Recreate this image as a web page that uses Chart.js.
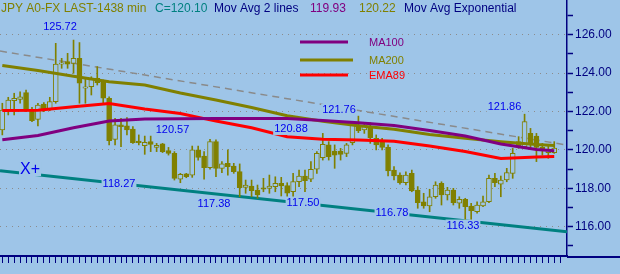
<!DOCTYPE html>
<html>
<head>
<meta charset="utf-8">
<script src="https://cdn.jsdelivr.net/npm/chart.js@4.4.0/dist/chart.umd.min.js"></script>
<style>
  html, body { margin: 0; padding: 0; background: #9ec5e8; }
  #grafico { display: block; }
</style>
</head>
<body>
<canvas id="grafico" width="620" height="274"></canvas>
<script>
// Candles (one per bar of 1438 min)
const opens  = [121.04,122.08,122.57,122.63,122.98,122.08,121.59,122.39,122.11,122.51,
                124.47,124.60,124.51,124.77,123.22,123.29,123.73,123.55,122.69,120.55,
                121.30,121.25,121.09,120.46,120.22,120.43,120.13,120.31,119.96,119.82,
                118.47,118.75,118.69,120.00,119.68,119.07,120.43,119.04,119.30,119.16,
                118.87,118.05,118.12,117.91,118.03,118.00,118.09,118.26,118.14,117.82,
                118.35,118.64,118.47,118.99,119.60,120.26,119.94,119.94,119.82,120.38,
                121.25,121.04,121.21,120.60,120.43,120.13,118.95,118.69,118.29,118.78,
                117.91,117.30,117.08,117.56,118.26,117.65,117.91,117.22,117.43,117.08,
                116.78,117.08,117.30,118.52,118.21,118.43,118.78,120.43,120.17,120.86,
                120.72,120.13,119.86,119.86];
const highs  = [122.43,122.74,122.95,123.03,123.12,122.22,122.43,122.46,122.74,125.55,
                124.77,125.03,125.72,125.59,123.73,123.81,124.34,123.64,122.77,121.64,
                121.64,121.68,121.21,120.78,120.72,120.72,120.34,120.34,120.13,119.91,
                118.78,118.78,120.20,120.20,119.91,120.55,120.52,119.39,120.00,119.30,
                119.27,118.43,118.43,118.17,118.52,118.69,118.60,118.57,118.29,118.78,
                118.95,118.95,119.39,119.91,120.86,120.43,120.26,120.08,120.34,121.47,
                121.76,121.42,121.42,120.78,120.60,120.26,119.13,118.81,118.86,118.95,
                118.09,117.74,117.95,118.34,118.34,118.05,118.00,117.56,117.48,117.22,
                117.30,117.60,118.69,118.78,118.64,119.04,120.08,120.69,121.86,121.12,
                120.86,120.34,120.26,120.43];
const lows   = [120.78,121.82,121.82,122.43,121.99,121.47,121.25,121.99,122.04,122.43,
                124.25,124.25,123.99,122.43,122.43,122.86,123.38,122.43,120.26,120.26,
                120.17,120.78,120.34,120.26,119.77,119.91,119.91,119.86,119.73,118.43,
                118.29,118.55,118.57,119.47,118.47,118.99,118.61,118.81,118.69,118.78,
                117.56,117.74,117.56,117.48,117.82,117.74,117.82,117.60,117.56,117.56,
                118.09,117.82,118.35,118.78,119.47,119.47,119.04,119.47,119.65,120.26,
                120.90,120.86,120.34,120.00,120.00,118.64,118.43,118.22,118.17,117.82,
                116.96,116.96,116.78,117.48,117.13,117.39,117.13,116.96,116.33,116.35,
                116.70,117.04,117.25,118.09,117.56,118.34,118.52,120.08,120.08,120.08,
                119.39,119.73,119.56,119.82];
const closes = [122.08,122.60,122.69,122.77,122.11,121.52,122.34,122.11,122.51,124.47,
                124.54,124.46,124.77,123.47,123.29,123.68,123.50,122.69,120.48,121.30,
                121.21,121.04,120.38,120.38,120.39,120.29,120.24,119.91,119.82,118.52,
                118.73,118.61,120.00,119.61,119.07,120.43,119.04,119.27,119.13,118.87,
                118.03,118.17,117.88,117.65,117.95,118.12,118.26,118.12,117.74,118.35,
                118.64,118.40,118.99,119.82,120.29,119.65,119.73,119.77,120.26,121.38,
                121.00,121.25,120.64,120.26,120.13,118.90,118.64,118.29,118.69,117.87,
                117.25,117.08,117.56,118.17,117.65,117.91,117.25,117.43,117.04,116.84,
                117.13,117.30,118.52,118.29,118.43,118.82,119.82,120.20,121.47,120.34,
                120.13,119.99,119.99,120.10];

// Moving averages, read every few bars
const maIdx = [0, 6, 12, 18, 24, 30, 36, 42, 48, 54, 60, 66, 72, 78, 84, 90, 93];
const ma100 = [120.53,120.75,121.15,121.50,121.61,121.62,121.63,121.64,121.63,121.53,121.42,121.27,121.01,120.72,120.31,120.02,119.95];
const ma200 = [124.39,124.13,123.84,123.55,123.38,122.96,122.60,122.21,121.78,121.49,121.26,121.07,120.80,120.61,120.43,120.28,120.23];
const ema89 = [122.05,122.06,122.25,122.42,122.13,121.90,121.50,121.15,120.69,120.55,120.52,120.45,120.20,119.92,119.55,119.63,119.65];

// Trend lines: value at the left edge and at the right edge of the plot
const trendUpper = [125.15, 120.25];
const trendLower = [118.92, 115.74];

// Price labels placed on the chart (bar index, price)
const notas = [
  { text: '125.72', x: 9.72,  y: 126.40 },
  { text: '120.57', x: 28.68, y: 121.04 },
  { text: '120.88', x: 48.64, y: 121.09 },
  { text: '121.76', x: 56.73, y: 122.08 },
  { text: '121.86', x: 84.62, y: 122.23 },
  { text: '118.27', x: 19.66, y: 118.24 },
  { text: '117.38', x: 35.67, y: 117.16 },
  { text: '117.50', x: 50.67, y: 117.26 },
  { text: '116.78', x: 65.66, y: 116.74 },
  { text: '116.33', x: 77.62, y: 116.06 }
];

const X_MIN = -0.39, X_MAX = 95.15;
const Y_MIN = 114.474, Y_MAX = 127.807;

const FUNDO = '#9ec5e8';
const OLIVA = '#808000';
const ROXO = '#800080';
const VERMELHO = '#ff0000';
const TEAL = '#008080';
const MARINHO = '#000080';
const AZUL = '#0000ee';
const FONTE = '"Liberation Sans", Arial, sans-serif';

const indices = opens.map((_, i) => i);
const altas = opens.map((o, i) => closes[i] >= o);

const pontos = (xs, ys) => xs.map((x, j) => ({ x: x, y: ys[j] }));

// texts on top of the plot: header, legend and price labels
const extras = {
  id: 'extras',
  afterDatasetsDraw(chart) {
    const { ctx, scales: { x, y }, chartArea } = chart;
    ctx.save();

    // bottom axis line keeps going under the price scale
    ctx.strokeStyle = MARINHO;
    ctx.lineWidth = 2;
    ctx.beginPath();
    ctx.moveTo(chartArea.right, chartArea.bottom + 1);
    ctx.lineTo(chart.width, chartArea.bottom + 1);
    ctx.stroke();

    ctx.textBaseline = 'middle';
    ctx.textAlign = 'left';
    ctx.font = '12px ' + FONTE;
    const cabecalho = [
      { t: 'JPY A0-FX LAST-1438 min', x: 1, c: OLIVA },
      { t: 'C=120.10', x: 155, c: TEAL },
      { t: 'Mov Avg 2 lines', x: 214, c: MARINHO },
      { t: '119.93', x: 310, c: ROXO },
      { t: '120.22', x: 359, c: OLIVA },
      { t: 'Mov Avg Exponential', x: 404, c: MARINHO }
    ];
    cabecalho.forEach(h => { ctx.fillStyle = h.c; ctx.fillText(h.t, h.x, 9); });

    // legend
    ctx.font = '11px ' + FONTE;
    const legenda = [
      { ds: 0, y: 42, x2: 348 },
      { ds: 1, y: 60, x2: 353 },
      { ds: 2, y: 75, x2: 348 }
    ];
    legenda.forEach(l => {
      const d = chart.data.datasets[l.ds];
      ctx.strokeStyle = d.borderColor;
      ctx.lineWidth = 3;
      ctx.beginPath();
      ctx.moveTo(300, l.y);
      ctx.lineTo(l.x2, l.y);
      ctx.stroke();
      ctx.fillStyle = d.borderColor;
      ctx.fillText(d.label, 369, l.y + 1);
    });

    // price labels with an opaque box
    ctx.textAlign = 'center';
    notas.forEach(n => {
      const px = x.getPixelForValue(n.x);
      const py = y.getPixelForValue(n.y);
      const w = ctx.measureText(n.text).width;
      ctx.fillStyle = FUNDO;
      ctx.fillRect(px - w / 2 - 1, py - 6, w + 2, 12);
      ctx.fillStyle = AZUL;
      ctx.fillText(n.text, px, py);
    });

    // X+ marker
    ctx.font = '16px ' + FONTE;
    const mx = x.getPixelForValue(4.67), my = y.getPixelForValue(119.0);
    const mw = ctx.measureText('X+').width;
    ctx.fillStyle = FUNDO;
    ctx.fillRect(mx - mw / 2 - 1, my - 8, mw + 2, 15);
    ctx.fillStyle = AZUL;
    ctx.fillText('X+', mx, my);

    ctx.restore();
  }
};

new Chart(document.getElementById('grafico'), {
  type: 'bar',
  data: {
    datasets: [
      { type: 'line', label: 'MA100', data: pontos(maIdx, ma100), borderColor: ROXO,
        borderWidth: 3, pointRadius: 0, tension: 0, order: 1 },
      { type: 'line', label: 'MA200', data: pontos(maIdx, ma200), borderColor: OLIVA,
        borderWidth: 3, pointRadius: 0, tension: 0, order: 2 },
      { type: 'line', label: 'EMA89', data: pontos(maIdx, ema89), borderColor: VERMELHO,
        borderWidth: 3, pointRadius: 0, tension: 0, order: 3 },
      { label: 'corpos', data: indices.map(i => ({ x: i, y: [opens[i], closes[i]] })),
        backgroundColor: altas.map(a => a ? FUNDO : OLIVA), borderColor: OLIVA,
        borderWidth: 1, borderSkipped: false, grouped: false, minBarLength: 1,
        maxBarThickness: 5, barPercentage: 1, categoryPercentage: 1, order: 5 },
      { label: 'pavios', data: indices.map(i => ({ x: i, y: [lows[i], highs[i]] })),
        backgroundColor: OLIVA, borderWidth: 0, grouped: false,
        maxBarThickness: 1, barPercentage: 1, categoryPercentage: 1, order: 6 },
      { type: 'line', label: 'suporte', data: pontos([X_MIN, X_MAX], trendLower),
        borderColor: TEAL, borderWidth: 3, pointRadius: 0, order: 7 },
      { type: 'line', label: 'resistencia', data: pontos([X_MIN, X_MAX], trendUpper),
        borderColor: '#8a8a8a', borderWidth: 1.5, borderDash: [7, 5], pointRadius: 0, order: 8 }
    ]
  },
  options: {
    responsive: false,
    animation: false,
    layout: { padding: 0 },
    plugins: { legend: { display: false }, tooltip: { enabled: false } },
    scales: {
      x: {
        type: 'linear', min: X_MIN, max: X_MAX, offset: false,
        afterBuildTicks: s => { s.ticks = s.ticks.filter(t => Number.isInteger(t.value) && t.value >= 0 && t.value <= 94); },
        afterFit: s => { s.height = 18; s.paddingLeft = 0; s.paddingRight = 0; },
        ticks: { display: false, stepSize: 1, includeBounds: false, autoSkip: false, maxTicksLimit: 1000 },
        grid: { drawOnChartArea: false, offset: false, tickColor: MARINHO, tickLength: 7, tickWidth: 1 },
        border: { color: MARINHO, width: 2 }
      },
      y: {
        type: 'linear', position: 'right', min: Y_MIN, max: Y_MAX,
        afterBuildTicks: s => { s.ticks = s.ticks.filter(t => Number.isInteger(t.value)); },
        afterFit: s => { s.width = 53; s.paddingTop = 0; s.paddingBottom = 0; },
        ticks: {
          stepSize: 1, includeBounds: false, autoSkip: false, maxTicksLimit: 1000,
          padding: 2, color: MARINHO, font: { family: FONTE, size: 12 },
          callback: v => (v % 2 === 0 ? v.toFixed(2) : '')
        },
        grid: {
          color: c => (c.tick && c.tick.value % 2 === 0 ? '#8c8c8c' : 'rgba(0,0,0,0)'),
          lineWidth: 1, tickColor: MARINHO, tickLength: 6, tickWidth: 1.5
        },
        border: { color: MARINHO, width: 1.5, dash: [1, 5] }
      }
    }
  },
  plugins: [extras]
});
</script>
</body>
</html>
